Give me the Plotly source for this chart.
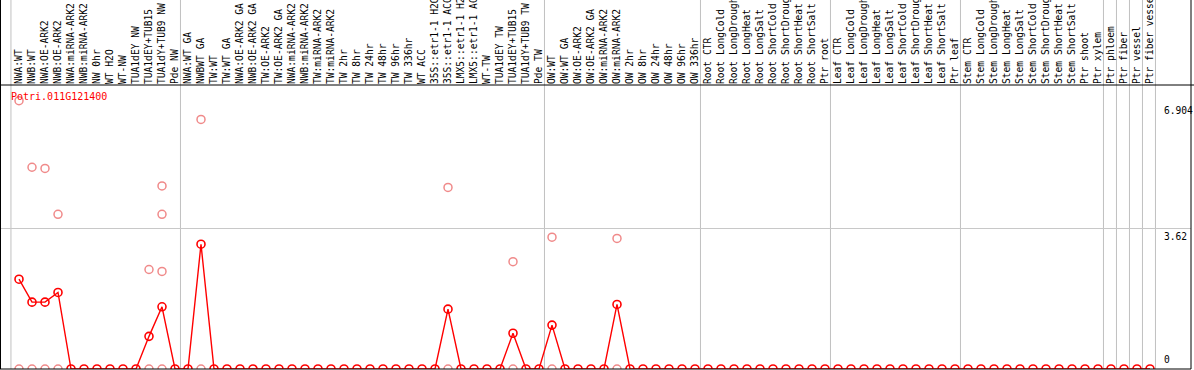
import plotly.graph_objects as go

# ---------------- data ----------------
gene_id = "Potri.011G121400"

nw_labels = ["NWA:WT", "NWB:WT", "NWA:OE-ARK2", "NWB:OE-ARK2", "NWA:miRNA-ARK2",
             "NWB:miRNA-ARK2", "NW 0hr", "WT H2O", "WT-NW", "TUA1dEY NW",
             "TUA1dEY+TUB15", "TUA1dY+TUB9 NW", "Pde NW"]
tw_labels = ["NWA:WT GA", "NWBWT GA", "TW:WT", "TW:WT GA", "NWA:OE-ARK2 GA",
             "NWB:OE-ARK2 GA", "TW:OE-ARK2", "TW:OE-ARK2 GA", "NWA:miRNA-ARK2",
             "NWB:miRNA-ARK2", "TW:miRNA-ARK2", "TW:miRNA-ARK2", "TW 2hr", "TW 8hr",
             "TW 24hr", "TW 48hr", "TW 96hr", "TW 336hr", "WT ACC", "35S::etr1-1 H2O",
             "35S::etr1-1 ACC", "LMX5::etr1-1 H2O", "LMX5::etr1-1 ACC", "WT-TW",
             "TUA1dEY TW", "TUA1dEY+TUB15", "TUA1dY+TUB9 TW", "Pde TW"]
ow_labels = ["OW:WT", "OW:WT GA", "OW:OE-ARK2", "OW:OE-ARK2 GA", "OW:miRNA-ARK2",
             "OW:miRNA-ARK2", "OW 2hr", "OW 8hr", "OW 24hr", "OW 48hr", "OW 96hr",
             "OW 336hr"]
root_labels = ["Root CTR", "Root LongCold", "Root LongDrought", "Root LongHeat",
               "Root LongSalt", "Root ShortCold", "Root ShortDrought", "Root ShortHeat",
               "Root ShortSalt", "Ptr root"]
leaf_labels = ["Leaf CTR", "Leaf LongCold", "Leaf LongDrought", "Leaf LongHeat",
               "Leaf LongSalt", "Leaf ShortCold", "Leaf ShortDrought", "Leaf ShortHeat",
               "Leaf ShortSalt", "Ptr leaf"]
stem_labels = ["Stem CTR", "Stem LongCold", "Stem LongDrought", "Stem LongHeat",
               "Stem LongSalt", "Stem ShortCold", "Stem ShortDrought", "Stem ShortHeat",
               "Stem ShortSalt", "Ptr shoot", "Ptr xylem"]
tissue_labels = ["Ptr phloem", "Ptr fiber", "Ptr vessel", "Ptr fiber vessel"]

groups = [nw_labels, tw_labels, ow_labels, root_labels, leaf_labels, stem_labels,
          ["Ptr phloem"], ["Ptr fiber"], ["Ptr vessel"], ["Ptr fiber vessel"]]

sample_labels = (nw_labels + tw_labels + ow_labels + root_labels + leaf_labels
                 + stem_labels + tissue_labels)

# mean expression per sample (red line)
mean_values = [2.31, 1.72, 1.72, 1.97, 0, 0, 0, 0, 0, 0, 0.84, 1.60, 0,
               0, 3.21, 0, 0, 0, 0, 0, 0, 0, 0, 0, 0, 0, 0, 0, 0, 0, 0, 0, 0,
               1.54, 0, 0, 0, 0, 0.92, 0, 0,
               1.13, 0, 0, 0, 0, 1.66, 0, 0, 0, 0, 0, 0,
               0, 0, 0, 0, 0, 0, 0, 0, 0, 0,
               0, 0, 0, 0, 0, 0, 0, 0, 0, 0,
               0, 0, 0, 0, 0, 0, 0, 0, 0, 0, 0,
               0, 0, 0, 0]

# individual replicate values (pale circles)
rep_sample = [0, 0, 1, 1, 2, 2, 3, 3, 10, 10, 11, 11, 11, 11,
              14, 14, 33, 33, 38, 38, 41, 41, 46, 46]
rep_values = [6.904, 0, 5.19, 0, 5.16, 0, 3.98, 0, 2.56, 0, 4.71, 3.98, 2.51, 0,
              6.42, 0, 4.67, 0, 2.76, 0, 3.39, 0, 3.36, 0]

y_ticks = [0, 3.62, 6.904]
y_tick_text = ["0", "3.62", "6.904"]

# ---------------- figure ----------------
W, H = 1194, 370
ML, MR, MT, MB = 1, 3, 85, 1
plot_w = W - ML - MR
plot_h = H - MT - MB
px_per_sample = 13.0
first_px = 19.0
x0 = -(first_px - ML) / px_per_sample
x1 = x0 + plot_w / px_per_sample
px_per_unit = 38.87
y_top = plot_h / px_per_unit
top_paper = 1 + MT / plot_h

mono = "DejaVu Sans Mono"
idx = list(range(len(sample_labels)))

fig = go.Figure()
fig.add_trace(go.Scatter(
    x=rep_sample, y=rep_values, mode="markers",
    marker=dict(symbol="circle-open", size=8, color="#f08a8a", line=dict(width=1.5)),
    hoverinfo="skip", showlegend=False))
fig.add_trace(go.Scatter(
    x=idx, y=mean_values, mode="lines+markers",
    line=dict(color="#ff0000", width=1.4),
    marker=dict(symbol="circle-open", size=8, color="#ff0000", line=dict(width=1.6)),
    showlegend=False))

shapes = []
# group separators
end = -1
bounds = [-0.62]
for g in groups[:-1]:
    end += len(g)
    bounds.append(end + 0.42)
bounds.append(end + len(groups[-1]) + 0.42)
for b in bounds:
    shapes.append(dict(type="line", xref="x", yref="paper", x0=b, x1=b, y0=0,
                       y1=top_paper, line=dict(color="#c0c0c0", width=1), layer="below"))
# frame lines
ext_r = (W - ML) / plot_w
shapes += [
    dict(type="line", xref="paper", yref="paper", x0=-ML / plot_w, x1=ext_r, y0=1, y1=1,
         line=dict(color="black", width=1)),
    dict(type="line", xref="paper", yref="paper", x0=-ML / plot_w, x1=1, y0=0, y1=0,
         line=dict(color="black", width=1)),
    dict(type="line", xref="paper", yref="paper", x0=-0.5 / plot_w, x1=-0.5 / plot_w,
         y0=0, y1=top_paper, line=dict(color="black", width=1)),
    dict(type="line", xref="paper", yref="paper", x0=1, x1=1, y0=0, y1=top_paper,
         line=dict(color="black", width=1)),
]

annotations = [dict(text=gene_id, xref="paper", yref="paper", x=8 / plot_w, y=1,
                    xanchor="left", yanchor="top", yshift=-4, showarrow=False,
                    font=dict(family=mono, size=10, color="#ff0000"))]
for v, t in zip(y_ticks, y_tick_text):
    annotations.append(dict(
        text=t, xref="paper", yref="y", x=(1162 - ML) / plot_w, y=v,
        xanchor="left", yanchor="bottom" if v == 0 else "top",
        yshift=2 if v == 0 else (-1 if v < 5 else -2), showarrow=False,
        font=dict(family=mono, size=9.6, color="black")))

fig.update_layout(
    width=W, height=H, margin=dict(l=ML, r=MR, t=MT, b=MB, pad=0),
    paper_bgcolor="white", plot_bgcolor="white",
    shapes=shapes, annotations=annotations,
    xaxis=dict(range=[x0, x1], side="top", tickmode="array", tickvals=idx,
               ticktext=sample_labels, tickangle=-90, ticks="", showgrid=False,
               zeroline=False, showline=False, automargin=False,
               tickfont=dict(family=mono, size=9.6, color="black")),
    yaxis=dict(range=[0, y_top], tickmode="array", tickvals=[3.62], showticklabels=False,
               showgrid=True, gridcolor="#c8c8c8", gridwidth=1, zeroline=False,
               showline=False, automargin=False),
)

fig.write_html("out.html", config={"displayModeBar": False},
               post_script="document.body.style.margin='0';document.body.style.overflow='hidden';")
